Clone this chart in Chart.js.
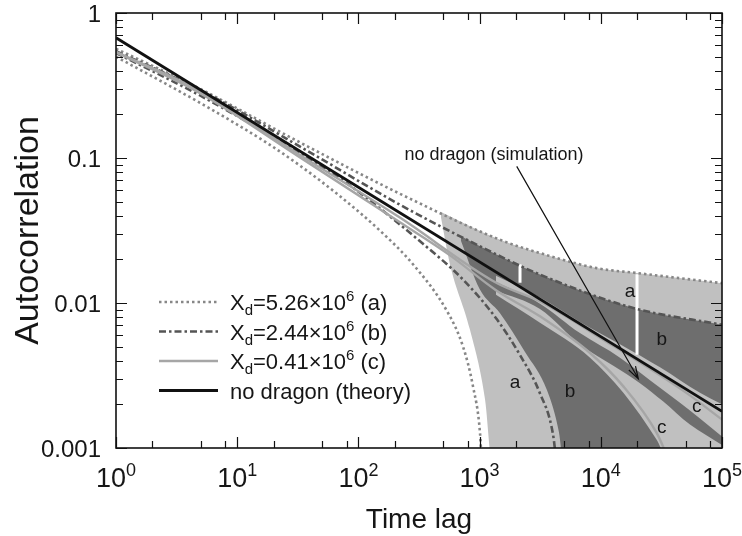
<!DOCTYPE html>
<html>
<head>
<meta charset="utf-8">
<script src="https://cdn.jsdelivr.net/npm/chart.js@4.4.1/dist/chart.umd.min.js"></script>
<style>
  html, body { margin: 0; padding: 0; background: #fff; }
  canvas { display: block; }
</style>
</head>
<body>
<canvas id="acf" width="742" height="536"></canvas>
<script>
// axes
var xMajorTicks = [1, 10, 100, 1000, 10000, 100000];
var xMinorSteps = [2, 5, 8];
var yMajorTicks = [0.001, 0.01, 0.1, 1];
var yMinorSteps = [2, 3, 4, 5, 6, 7, 8, 9];
var yTickLabels = ['0.001', '0.01', '0.1', '1'];

// theory line (no dragon)
var theoryT = [1, 100000];
var theoryY = [0.675, 0.00179];

// (a) Xd = 5.26e6, dotted envelope
var aUpT = [1, 4.93, 33, 220, 1474, 3150, 9250, 19800, 100000];
var aUpY = [0.567, 0.30, 0.128, 0.0567, 0.0273, 0.0221, 0.0174, 0.0161, 0.0137];
var aLoT = [1, 4.93, 17.6, 33, 70.5, 151, 282, 538, 730, 883, 1007, 1040];
var aLoY = [0.50, 0.240, 0.127, 0.0885, 0.0545, 0.0315, 0.0185, 0.0088, 0.0050, 0.00265, 0.00128, 0.0008];

// (b) Xd = 2.44e6, dash-dot envelope
var bUpT = [1, 4.93, 33, 220, 1008, 3150, 18550, 100000];
var bUpY = [0.545, 0.295, 0.120, 0.0476, 0.0246, 0.0157, 0.00924, 0.00708];
var bLoT = [1, 4.93, 33, 80, 343, 730, 1393, 2155, 3150, 4035, 4300];
var bLoY = [0.53, 0.27, 0.108, 0.0671, 0.0255, 0.0145, 0.00769, 0.00437, 0.00238, 0.00124, 0.0008];

// (c) Xd = 0.41e6, solid grey envelope
var cUpT = [1, 4.93, 33, 220, 1384, 3150, 9840, 51100, 100000];
var cUpY = [0.54, 0.29, 0.105, 0.0388, 0.01374, 0.01026, 0.00577, 0.00239, 0.00157];
var cLoT = [1, 4.93, 33, 220, 570, 1384, 3150, 8150, 15350, 28900, 37000];
var cLoY = [0.535, 0.28, 0.101, 0.0360, 0.0213, 0.01215, 0.00809, 0.00452, 0.00266, 0.00127, 0.0008];

// shaded simulation ranges
var aBandTopT = [480, 1474, 3150, 9250, 19800, 100000];
var aBandTopY = [0.0425, 0.0273, 0.0221, 0.0174, 0.0161, 0.0137];
var aBandBotT = [480, 570, 833, 1109, 1266, 100000];
var aBandBotY = [0.0390, 0.0184, 0.00654, 0.00216, 0.0008, 0.0008];

var bBandTopT = [700, 1008, 3150, 18550, 100000];
var bBandTopY = [0.0290, 0.0246, 0.0157, 0.00924, 0.00708];
var bBandBotT = [700, 1000, 1474, 2370, 3600, 4520, 4900, 100000];
var bBandBotY = [0.0270, 0.0125, 0.0085, 0.0046, 0.0025, 0.00128, 0.0008, 0.0008];

var cHiT = [1365, 3150, 6730, 14400, 30800, 65800, 100000];
var cHiTopY = [0.0154, 0.0109, 0.0074, 0.0052, 0.0036, 0.0024, 0.0020];
var cHiBotY = [0.0140, 0.0099, 0.0062, 0.0042, 0.0026, 0.0016, 0.0012];

var cLoBandTopT = [1365, 3150, 6730, 12600, 21050, 32600, 54400, 100000];
var cLoBandTopY = [0.0122, 0.0091, 0.0052, 0.0037, 0.0028, 0.0021, 0.00145, 0.00105];
var cLoBandBotT = [1365, 3150, 8150, 15350, 28900, 37000, 100000];
var cLoBandBotY = [0.0114, 0.0073, 0.0042, 0.0024, 0.00114, 0.0008, 0.0008];

// white gaps in the simulation traces
var gapT = [2155, 19900];
var gapTopY = [0.0185, 0.0158];
var gapBotY = [0.0138, 0.0044];

// text
var legendXd = ['5.26', '2.44', '0.41'];
var legendTags = ['a', 'b', 'c'];
var theoryLabel = 'no dragon (theory)';
var regionTags = ['a', 'b', 'c', 'c', 'b', 'a'];
var regionT = [17400, 31800, 61800, 31800, 5570, 1960];
var regionY = [0.0120, 0.00558, 0.00194, 0.00137, 0.00246, 0.00281];
var simLabel = 'no dragon (simulation)';
var simLabelT = 1315, simLabelY = 0.105;
var arrowT = [2025, 20400];
var arrowY = [0.0875, 0.0030];

var FONT = "'Liberation Sans', Arial, Helvetica, sans-serif";
var INK = '#161616';
var LIGHT = '#c0c0c0', DARK = '#6e6e6e';

function pts(ts, ys) {
  return ts.map(function (t, i) { return { x: t, y: ys[i] }; });
}

function curve(label, ts, ys, color, width, dash, order) {
  return {
    label: label, data: pts(ts, ys), borderColor: color, borderWidth: width,
    borderDash: dash || [], borderCapStyle: 'butt', pointRadius: 0, fill: false,
    cubicInterpolationMode: 'monotone', order: order, clip: 0
  };
}

function edge(ts, ys, color, target, order) {
  return {
    data: pts(ts, ys), borderWidth: 0, borderColor: 'rgba(0,0,0,0)', backgroundColor: color,
    pointRadius: 0, fill: target === null ? false : { target: target },
    cubicInterpolationMode: 'monotone', order: order, clip: 0
  };
}

var datasets = [
  curve(theoryLabel, theoryT, theoryY, '#111', 2.8, [], 0),
  curve('c upper', cUpT, cUpY, '#a6a6a6', 2.4, [], 1),
  curve('c lower', cLoT, cLoY, '#a6a6a6', 2.4, [], 1),
  curve('b upper', bUpT, bUpY, '#555', 2.6, [7, 3, 2.5, 3], 2),
  curve('b lower', bLoT, bLoY, '#555', 2.6, [7, 3, 2.5, 3], 2),
  curve('a upper', aUpT, aUpY, '#878787', 2.6, [2.5, 3], 3),
  curve('a lower', aLoT, aLoY, '#878787', 2.6, [2.5, 3], 3)
];
var legendSeries = [5, 3, 1, 0];

gapT.forEach(function (t, i) {
  datasets.push({
    data: [{ x: t, y: gapTopY[i] }, { x: t, y: gapBotY[i] }],
    borderColor: '#fff', borderWidth: 3, pointRadius: 0, fill: false, tension: 0, order: 5, clip: 0
  });
});

function addBand(topT, topY, botT, botY, color, order) {
  var i = datasets.length;
  datasets.push(edge(topT, topY, color, i + 1, order));
  datasets.push(edge(botT, botY, color, null, order));
}
addBand(cLoBandTopT, cLoBandTopY, cLoBandBotT, cLoBandBotY, LIGHT, 6);
addBand(cHiT, cHiTopY, cHiT, cHiBotY, LIGHT, 6);
addBand(bBandTopT, bBandTopY, bBandBotT, bBandBotY, DARK, 7);
addBand(aBandTopT, aBandTopY, aBandBotT, aBandBotY, LIGHT, 8);

function buildTicks(majors, steps) {
  var out = [];
  majors.forEach(function (v, i) {
    out.push({ value: v, major: true });
    if (i < majors.length - 1) steps.forEach(function (m) { out.push({ value: v * m, major: false }); });
  });
  return out;
}

function drawRich(ctx, parts, x, y, align) {
  var w = 0;
  parts.forEach(function (p) { ctx.font = p.size + 'px ' + FONT; w += ctx.measureText(p.text).width; });
  var cx = align === 'center' ? x - w / 2 : (align === 'right' ? x - w : x);
  ctx.textAlign = 'left';
  ctx.textBaseline = 'alphabetic';
  parts.forEach(function (p) {
    ctx.font = p.size + 'px ' + FONT;
    ctx.fillText(p.text, cx, y + (p.dy || 0));
    cx += ctx.measureText(p.text).width;
  });
}

var decorations = {
  id: 'decorations',
  afterDatasetsDraw: function (chart) {
    var ctx = chart.ctx, a = chart.chartArea;
    var xs = chart.scales.x, ys = chart.scales.y;
    ctx.save();

    // frame and inward ticks on all four sides
    ctx.strokeStyle = '#111';
    ctx.lineWidth = 1.6;
    ctx.strokeRect(a.left, a.top, a.right - a.left, a.bottom - a.top);
    ctx.lineWidth = 1.2;
    ctx.beginPath();
    xs.ticks.forEach(function (t) {
      var px = Math.round(xs.getPixelForValue(t.value)) + 0.5;
      var len = t.major ? 11 : 7;
      ctx.moveTo(px, a.bottom); ctx.lineTo(px, a.bottom - len);
      ctx.moveTo(px, a.top); ctx.lineTo(px, a.top + len);
    });
    ys.ticks.forEach(function (t) {
      var py = Math.round(ys.getPixelForValue(t.value)) + 0.5;
      var len = t.major ? 11 : 7;
      ctx.moveTo(a.left, py); ctx.lineTo(a.left + len, py);
      ctx.moveTo(a.right, py); ctx.lineTo(a.right - len, py);
    });
    ctx.stroke();

    ctx.fillStyle = INK;

    // tick labels
    yMajorTicks.forEach(function (v, i) {
      ctx.font = '24px ' + FONT;
      ctx.textAlign = 'right';
      ctx.textBaseline = 'alphabetic';
      ctx.fillText(yTickLabels[i], 101, ys.getPixelForValue(v) + 8.5);
    });
    xMajorTicks.forEach(function (v) {
      var e = String(Math.round(Math.log10(v)));
      drawRich(ctx, [{ text: '10', size: 27 }, { text: e, size: 18, dy: -11 }],
        xs.getPixelForValue(v), 487, 'center');
    });

    // axis titles
    ctx.font = '28px ' + FONT;
    ctx.textAlign = 'center';
    ctx.textBaseline = 'alphabetic';
    ctx.fillText('Time lag', (a.left + a.right) / 2, 528);
    ctx.save();
    ctx.translate(38, (a.top + a.bottom) / 2);
    ctx.rotate(-Math.PI / 2);
    ctx.font = '34px ' + FONT;
    ctx.fillText('Autocorrelation', 0, 0);
    ctx.restore();

    // region tags
    ctx.font = '19px ' + FONT;
    ctx.textAlign = 'center';
    ctx.textBaseline = 'middle';
    regionTags.forEach(function (s, i) {
      ctx.fillText(s, xs.getPixelForValue(regionT[i]), ys.getPixelForValue(regionY[i]));
    });

    // simulation annotation with arrow
    ctx.font = '18px ' + FONT;
    ctx.fillText(simLabel, xs.getPixelForValue(simLabelT), ys.getPixelForValue(simLabelY));
    var x0 = xs.getPixelForValue(arrowT[0]), y0 = ys.getPixelForValue(arrowY[0]);
    var x1 = xs.getPixelForValue(arrowT[1]), y1 = ys.getPixelForValue(arrowY[1]);
    var ang = Math.atan2(y1 - y0, x1 - x0);
    ctx.strokeStyle = '#111';
    ctx.lineWidth = 1.2;
    ctx.beginPath();
    ctx.moveTo(x0, y0); ctx.lineTo(x1, y1);
    ctx.moveTo(x1 - 13 * Math.cos(ang - 0.3), y1 - 13 * Math.sin(ang - 0.3));
    ctx.lineTo(x1, y1);
    ctx.lineTo(x1 - 13 * Math.cos(ang + 0.3), y1 - 13 * Math.sin(ang + 0.3));
    ctx.stroke();

    // legend
    legendSeries.forEach(function (idx, r) {
      var ds = chart.data.datasets[idx];
      var ly = 302 + r * 29.5;
      ctx.save();
      ctx.strokeStyle = ds.borderColor;
      ctx.lineWidth = ds.borderWidth;
      ctx.setLineDash(ds.borderDash || []);
      ctx.beginPath();
      ctx.moveTo(159, ly); ctx.lineTo(218, ly);
      ctx.stroke();
      ctx.restore();
      var parts;
      if (r < legendXd.length) {
        parts = [
          { text: 'X', size: 22 }, { text: 'd', size: 15, dy: 5 },
          { text: '=' + legendXd[r] + '\u00d710', size: 22 }, { text: '6', size: 15, dy: -9 },
          { text: ' (' + legendTags[r] + ')', size: 22 }
        ];
      } else {
        parts = [{ text: theoryLabel, size: 22 }];
      }
      drawRich(ctx, parts, 230, ly + 8, 'left');
    });

    ctx.restore();
  }
};

new Chart(document.getElementById('acf'), {
  type: 'line',
  data: { datasets: datasets },
  options: {
    responsive: false,
    animation: false,
    devicePixelRatio: 1,
    events: [],
    layout: { padding: { left: 0, right: 20, top: 13, bottom: 0 } },
    plugins: { legend: { display: false }, tooltip: { enabled: false } },
    scales: {
      x: {
        type: 'logarithmic', min: 1, max: 100000,
        grid: { display: false }, border: { display: false }, ticks: { display: false },
        afterBuildTicks: function (s) { s.ticks = buildTicks(xMajorTicks, xMinorSteps); },
        afterFit: function (s) { s.height = 88; }
      },
      y: {
        type: 'logarithmic', min: 0.001, max: 1,
        grid: { display: false }, border: { display: false }, ticks: { display: false },
        afterBuildTicks: function (s) { s.ticks = buildTicks(yMajorTicks, yMinorSteps); },
        afterFit: function (s) { s.width = 116; }
      }
    }
  },
  plugins: [decorations]
});
</script>
</body>
</html>
